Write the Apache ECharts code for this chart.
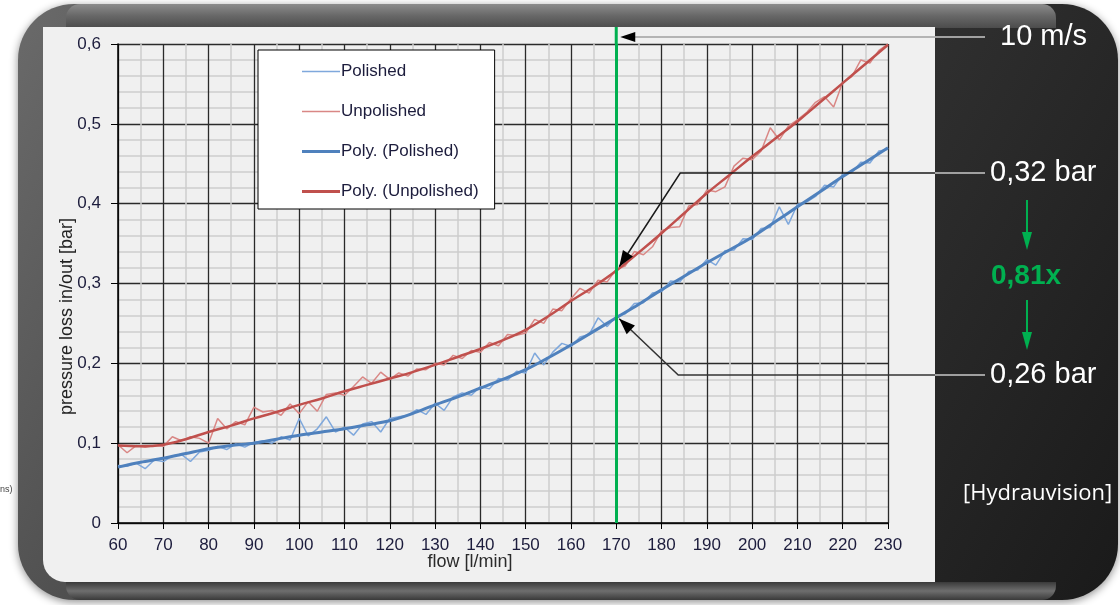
<!DOCTYPE html>
<html>
<head>
<meta charset="utf-8">
<script src="https://cdn.jsdelivr.net/npm/echarts@6/dist/echarts.min.js"></script>
<style>
  html, body { margin: 0; padding: 0; background: #fff; }
  #chart { width: 1120px; height: 605px; }
</style>
</head>
<body>
<div id="chart"></div>
<script>
// measured flow points (every 2 l/min)
const flowRaw = [60,62,64,66,68,70,72,74,76,78,80,82,84,86,88,90,92,94,96,98,100,102,104,106,108,110,112,114,116,118,120,122,124,126,128,130,132,134,136,138,140,142,144,146,148,150,152,154,156,158,160,162,164,166,168,170,172,174,176,178,180,182,184,186,188,190,192,194,196,198,200,202,204,206,208,210,212,214,216,218,220,222,224,226,228,230];
const polishedRaw = [0.072,0.071,0.075,0.068,0.079,0.077,0.084,0.086,0.077,0.089,0.091,0.096,0.092,0.099,0.095,0.101,0.103,0.100,0.108,0.104,0.131,0.109,0.118,0.133,0.114,0.120,0.110,0.124,0.127,0.114,0.131,0.133,0.135,0.142,0.136,0.150,0.141,0.158,0.163,0.160,0.171,0.168,0.181,0.179,0.190,0.188,0.213,0.198,0.214,0.225,0.221,0.233,0.236,0.257,0.246,0.259,0.262,0.275,0.276,0.288,0.290,0.303,0.302,0.315,0.317,0.330,0.323,0.341,0.342,0.356,0.355,0.369,0.370,0.396,0.374,0.399,0.402,0.409,0.423,0.421,0.437,0.439,0.452,0.451,0.466,0.468];
const unpolishedRaw = [0.098,0.088,0.097,0.095,0.097,0.096,0.108,0.103,0.108,0.106,0.100,0.131,0.118,0.127,0.123,0.145,0.139,0.141,0.135,0.149,0.137,0.152,0.140,0.161,0.163,0.160,0.171,0.183,0.175,0.189,0.180,0.188,0.184,0.193,0.192,0.200,0.198,0.210,0.206,0.216,0.214,0.226,0.222,0.236,0.235,0.238,0.255,0.250,0.268,0.266,0.281,0.294,0.288,0.304,0.302,0.318,0.322,0.340,0.336,0.346,0.366,0.370,0.371,0.397,0.399,0.417,0.415,0.421,0.447,0.457,0.455,0.466,0.495,0.480,0.497,0.505,0.514,0.527,0.534,0.521,0.552,0.559,0.580,0.576,0.592,0.600];

// polynomial trend lines, read every 5 l/min
const flowFit = [60,65,70,75,80,85,90,95,100,105,110,115,120,125,130,135,140,145,150,155,160,165,170,175,180,185,190,195,200,205,210,215,220,225,230];
const polishedFit = [0.070,0.076,0.081,0.087,0.093,0.097,0.100,0.105,0.110,0.114,0.118,0.123,0.128,0.137,0.148,0.158,0.169,0.180,0.192,0.207,0.223,0.240,0.257,0.274,0.292,0.309,0.326,0.342,0.358,0.377,0.396,0.415,0.434,0.452,0.470];
const unpolishedFit = [0.097,0.096,0.098,0.105,0.114,0.122,0.131,0.139,0.148,0.156,0.165,0.173,0.181,0.189,0.198,0.208,0.218,0.229,0.242,0.259,0.278,0.296,0.316,0.339,0.363,0.388,0.413,0.436,0.459,0.481,0.503,0.527,0.551,0.575,0.599];

const seriesNames = ['Polished', 'Unpolished', 'Poly. (Polished)', 'Poly. (Unpolished)'];
const markFlow = 170;
const notes = { speed: '10 m/s', high: '0,32 bar', ratio: '0,81x', low: '0,26 bar', source: '[Hydrauvision]' };
const highValue = 0.316;
const lowValue = 0.257;

const pair = (xs, ys) => xs.map((x, i) => [x, ys[i]]);
const labelColor = '#1c1c3c';
const font = '"Liberation Sans", Arial, sans-serif';
const thinIcon = 'path://M0,0 L38,0 L38,1.6 L0,1.6 Z';
const thickIcon = 'path://M0,0 L38,0 L38,3.2 L0,3.2 Z';

const chart = echarts.init(document.getElementById('chart'));

chart.setOption({
  animation: false,
  backgroundColor: '#ffffff',
  grid: { left: 118, right: 232, top: 44, bottom: 82 },
  legend: {
    orient: 'vertical',
    left: 258,
    top: 50,
    data: [
      { name: seriesNames[0], icon: thinIcon },
      { name: seriesNames[1], icon: thinIcon },
      { name: seriesNames[2], icon: thickIcon },
      { name: seriesNames[3], icon: thickIcon }
    ],
    backgroundColor: '#ffffff',
    borderColor: '#000000',
    borderWidth: 1,
    padding: [13, 16, 9, 44],
    itemWidth: 38,
    itemHeight: 14,
    itemGap: 23,
    textStyle: { color: labelColor, fontSize: 17, fontFamily: font, padding: [0, 0, 0, -4] }
  },
  xAxis: {
    type: 'value',
    min: 60,
    max: 230,
    interval: 10,
    name: 'flow [l/min]',
    nameLocation: 'middle',
    nameGap: 30,
    nameMoveOverlap: false,
    nameTextStyle: { color: '#2a2a2a', fontSize: 18, fontFamily: font, padding: [0, 66, 0, 0] },
    axisLine: { lineStyle: { color: '#000', width: 1.5 } },
    axisTick: { show: true, length: 6, lineStyle: { color: '#000' } },
    axisLabel: { color: labelColor, fontSize: 17, fontFamily: font, margin: 14 },
    splitLine: { show: true, lineStyle: { color: '#2a2a2a', width: 1.3 } },
    minorTick: { show: false, splitNumber: 2 },
    minorSplitLine: { show: true, lineStyle: { color: '#cdcdcd', width: 1.5 } }
  },
  yAxis: {
    type: 'value',
    min: 0,
    max: 0.6,
    interval: 0.1,
    name: 'pressure loss in/out [bar]',
    nameLocation: 'middle',
    nameGap: 42,
    nameMoveOverlap: false,
    nameTextStyle: { color: '#222', fontSize: 18, fontFamily: font, padding: [0, 66, 0, 0] },
    axisLine: { show: true, lineStyle: { color: '#000', width: 1.5 } },
    axisTick: { show: true, length: 7, lineStyle: { color: '#000' } },
    axisLabel: {
      color: labelColor, fontSize: 17, fontFamily: font, margin: 17,
      formatter: v => String(+v.toFixed(1)).replace('.', ',')
    },
    splitLine: { show: true, lineStyle: { color: '#2a2a2a', width: 1.3 } },
    minorTick: { show: false, splitNumber: 5 },
    minorSplitLine: { show: true, lineStyle: { color: '#cdcdcd', width: 1.5 } }
  },
  series: [
    {
      name: seriesNames[0], type: 'line', data: pair(flowRaw, polishedRaw),
      symbol: 'none', z: 2,
      lineStyle: { color: '#7fa8dc', width: 1.5 }, itemStyle: { color: '#7fa8dc' }
    },
    {
      name: seriesNames[1], type: 'line', data: pair(flowRaw, unpolishedRaw),
      symbol: 'none', z: 2,
      lineStyle: { color: '#d98785', width: 1.5 }, itemStyle: { color: '#d98785' },
      markLine: {
        silent: true, symbol: 'none', label: { show: false },
        lineStyle: { color: '#00b050', width: 3, type: 'solid' },
        data: [{ xAxis: markFlow }]
      }
    },
    {
      name: seriesNames[2], type: 'line', data: pair(flowFit, polishedFit),
      symbol: 'none', smooth: 0.3, z: 3,
      lineStyle: { color: '#4f81bd', width: 3 }, itemStyle: { color: '#4f81bd' }
    },
    {
      name: seriesNames[3], type: 'line', data: pair(flowFit, unpolishedFit),
      symbol: 'none', smooth: 0.4, z: 3,
      lineStyle: { color: '#c0504d', width: 2.5 }, itemStyle: { color: '#c0504d' }
    }
  ]
});

// pixel anchors from the chart's own scales
const topPt = chart.convertToPixel({ gridIndex: 0 }, [markFlow, 0.6]);
const hiPt = chart.convertToPixel({ gridIndex: 0 }, [markFlow, highValue]);
const loPt = chart.convertToPixel({ gridIndex: 0 }, [markFlow, lowValue]);

function arrowHead(tip, from, len, half) {
  const dx = from[0] - tip[0], dy = from[1] - tip[1];
  const d = Math.sqrt(dx * dx + dy * dy);
  const ux = dx / d, uy = dy / d;
  const bx = tip[0] + ux * len, by = tip[1] + uy * len;
  return [tip, [bx - uy * half, by + ux * half], [bx + uy * half, by - ux * half]];
}

const panelRight = 935;
const labelX = 990;
const whiteText = (id, text, x, y, size) => ({
  type: 'text', id, x, y, z: 20,
  style: { text, fill: '#ffffff', font: `${size}px ${font}`, textVerticalAlign: 'middle' }
});

const speedY = topPt[1] - 7;
const hiElbow = [hiPt[0] + 64, 173];
const loElbow = [loPt[0] + 62, 375];
const hiTip = [hiPt[0] + 3, hiPt[1] - 4];
const loTip = [loPt[0] + 3, loPt[1] + 1];
const speedTip = [topPt[0] + 4, speedY];

chart.setOption({
  graphic: [
    // dark rounded frame
    {
      type: 'rect', id: 'frame', z: -30, silent: true,
      shape: { x: 18, y: 4, width: 1100, height: 596, r: 56 },
      style: {
        fill: new echarts.graphic.LinearGradient(0, 0, 1, 1, [
          { offset: 0, color: '#6a6a6a' }, { offset: 0.45, color: '#3c3c3c' }, { offset: 1, color: '#1a1a1a' }
        ]),
        shadowBlur: 8, shadowColor: 'rgba(0,0,0,0.45)', shadowOffsetY: 2
      }
    },
    {
      type: 'rect', id: 'frameTop', z: -29, silent: true,
      shape: { x: 66, y: 4, width: 990, height: 24, r: [14, 14, 0, 0] },
      style: {
        fill: new echarts.graphic.LinearGradient(0, 0, 0, 1, [
          { offset: 0, color: '#8c8c8c' }, { offset: 0.5, color: '#676767' }, { offset: 1, color: '#4c4c4c' }
        ])
      }
    },
    {
      type: 'rect', id: 'frameBottom', z: -29, silent: true,
      shape: { x: 66, y: 582, width: 990, height: 18, r: [0, 0, 14, 14] },
      style: {
        fill: new echarts.graphic.LinearGradient(0, 0, 0, 1, [
          { offset: 0, color: '#3a3a3a' }, { offset: 0.5, color: '#6e6e6e' }, { offset: 1, color: '#3a3a3a' }
        ])
      }
    },
    // light chart panel
    {
      type: 'rect', id: 'panel', z: -20, silent: true,
      shape: { x: 43, y: 27, width: panelRight - 43, height: 555, r: [0, 0, 0, 22] },
      style: { fill: '#f0f0f0' }
    },
    { type: 'text', id: 'cut', x: 0, y: 490, z: 5, style: { text: 'ns)', fill: '#444', font: `9px ${font}`, textVerticalAlign: 'middle' } },
    // green marker extends above the plot
    {
      type: 'line', id: 'greenTop', z: 10, silent: true,
      shape: { x1: topPt[0], y1: 27, x2: topPt[0], y2: topPt[1] },
      style: { stroke: '#00b050', lineWidth: 3 }
    },
    // 10 m/s callout
    {
      type: 'line', id: 'speedIn', z: 10,
      shape: { x1: speedTip[0] + 10, y1: speedY, x2: panelRight, y2: speedY },
      style: { stroke: '#b4b4b4', lineWidth: 2 }
    },
    {
      type: 'line', id: 'speedOut', z: 10,
      shape: { x1: panelRight, y1: speedY, x2: 985, y2: speedY },
      style: { stroke: '#c8c8c8', lineWidth: 1.5 }
    },
    {
      type: 'polygon', id: 'speedHead', z: 11,
      shape: { points: arrowHead(speedTip, [speedTip[0] + 40, speedY], 15, 5) },
      style: { fill: '#000' }
    },
    whiteText('speedText', notes.speed, 1000, speedY, 29),
    // 0,32 bar callout
    {
      type: 'polyline', id: 'hiLine', z: 10,
      shape: { points: [hiTip, hiElbow, [panelRight, hiElbow[1]]] },
      style: { stroke: '#1a1a1a', lineWidth: 1.5, fill: null }
    },
    {
      type: 'line', id: 'hiOut', z: 10,
      shape: { x1: panelRight, y1: hiElbow[1], x2: 985, y2: hiElbow[1] },
      style: { stroke: '#c8c8c8', lineWidth: 1.5 }
    },
    {
      type: 'polygon', id: 'hiHead', z: 11,
      shape: { points: arrowHead(hiTip, hiElbow, 16, 6) },
      style: { fill: '#000' }
    },
    whiteText('hiText', notes.high, labelX, hiElbow[1], 29),
    // 0,26 bar callout
    {
      type: 'polyline', id: 'loLine', z: 10,
      shape: { points: [loTip, loElbow, [panelRight, loElbow[1]]] },
      style: { stroke: '#333333', lineWidth: 1.5, fill: null }
    },
    {
      type: 'line', id: 'loOut', z: 10,
      shape: { x1: panelRight, y1: loElbow[1], x2: 985, y2: loElbow[1] },
      style: { stroke: '#c8c8c8', lineWidth: 1.5 }
    },
    {
      type: 'polygon', id: 'loHead', z: 11,
      shape: { points: arrowHead(loTip, loElbow, 16, 6) },
      style: { fill: '#000' }
    },
    whiteText('loText', notes.low, labelX, loElbow[1], 29),
    // ratio arrows
    {
      type: 'line', id: 'ratioA', z: 10,
      shape: { x1: 1027, y1: 200, x2: 1027, y2: 238 },
      style: { stroke: '#00b050', lineWidth: 2 }
    },
    {
      type: 'polygon', id: 'ratioAHead', z: 10,
      shape: { points: [[1022, 232], [1032, 232], [1027, 250]] },
      style: { fill: '#00b050' }
    },
    {
      type: 'line', id: 'ratioB', z: 10,
      shape: { x1: 1027, y1: 300, x2: 1027, y2: 338 },
      style: { stroke: '#00b050', lineWidth: 2 }
    },
    {
      type: 'polygon', id: 'ratioBHead', z: 10,
      shape: { points: [[1022, 332], [1032, 332], [1027, 350]] },
      style: { fill: '#00b050' }
    },
    {
      type: 'text', id: 'ratioText', x: 1026, y: 276, z: 20,
      style: { text: notes.ratio, fill: '#00b050', font: `bold 28px ${font}`, textAlign: 'center', textVerticalAlign: 'middle' }
    },
    {
      type: 'text', id: 'source', x: 963, y: 494, z: 20,
      style: { text: notes.source, fill: '#ffffff', font: '22px "Open Sans", sans-serif', textVerticalAlign: 'middle' }
    }
  ]
});

window.addEventListener('resize', () => chart.resize());
</script>
</body>
</html>
